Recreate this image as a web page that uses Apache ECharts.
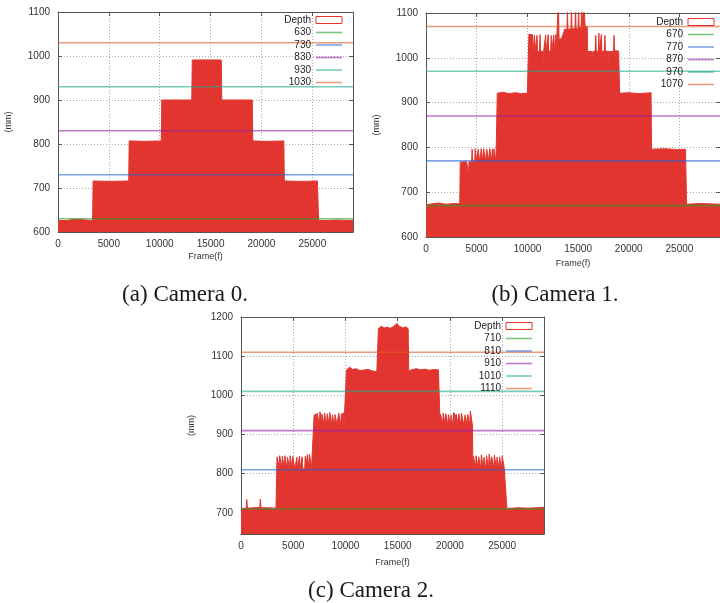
<!DOCTYPE html>
<html><head><meta charset="utf-8">
<script src="https://cdn.jsdelivr.net/npm/echarts@6/dist/echarts.min.js"></script>
<style>html,body{margin:0;padding:0;background:#fff}#c{width:720px;height:603px}</style>
</head><body><div id="c"></div>
<script>
// ---------- data ----------
const frameRange = [0, 29000];
const captions = ['(a) Camera 0.', '(b) Camera 1.', '(c) Camera 2.'];
const levelsA = [630, 730, 830, 930, 1030];
const levelsB = [670, 770, 870, 970, 1070];
const levelsC = [710, 810, 910, 1010, 1110];
const yRangeA = [600, 1100];
const yRangeB = [600, 1100];
const yRangeC = [646, 1200];

const depthA = [[0,626],[900,626],[950,629],[1300,628],[1350,626],[1800,629],[1850,626],[3400,626],[3450,716],[5200,715],[6950,716],[7000,807],[8500,806],[10150,807],[10200,900],[13150,900],[13200,991],[16050,991],[16100,900],[19100,900],[19150,807],[20600,806],[22200,807],[22250,716],[24000,715],[25500,716],[25620,626],[27500,627],[29000,626]];

const depthB = [[0,672],[600,674],[1200,676],[2000,673],[2800,675],[3330,674],
[3380,767],[3900,768],[3950,740],[4000,768],[4150,768],[4200,742],[4250,768],[4500,767],[4550,796],[4600,768],[4800,768],[4850,797],[4950,797],[5000,769],[5100,769],[5150,796],[5250,796],[5300,768],[5400,768],[5450,797],[5550,770],[5650,770],[5700,797],[5800,797],[5850,769],[5950,769],[6000,796],[6100,796],[6150,770],[6250,770],[6300,797],[6400,797],[6450,769],[6550,796],[6650,769],[6700,797],[6850,797],[6900,769],[6980,769],
[7030,921],[7600,923],[8200,920],[8800,922],[9400,920],[10000,921],[10100,921],
[10150,1052],[10500,1052],[10550,1014],[10650,1014],[10700,1051],[10750,1015],[10900,1014],[10950,1050],[11000,1014],[11200,1015],[11250,1052],[11300,1014],[11500,1015],[11550,978],[11600,1014],[11750,1014],[11800,1051],[11850,1013],[12000,1014],[12050,1052],[12100,1015],[12300,1014],[12350,1050],[12400,1014],[12550,1015],[12600,1051],[12650,1014],[12800,1052],[12850,1016],[13000,1015],
[13050,1130],[13130,1040],[13400,1045],[13600,1058],[13650,1064],[13900,1062],[13950,1110],[14000,1063],[14300,1065],[14350,1110],[14400,1064],[14700,1066],[14750,1120],[14800,1066],[15000,1066],[15050,1110],[15100,1067],[15300,1068],[15350,1120],[15400,1068],[15500,1068],[15550,1130],[15650,1130],[15700,1070],[15900,1069],
[15950,1014],[16400,1014],[16450,980],[16500,1014],[16700,1015],[16750,1050],[16800,1015],[17000,1014],[17050,1055],[17100,1016],[17250,1015],[17300,1052],[17350,1014],[17600,1015],[17650,1050],[17700,1014],[18000,1015],[18050,980],[18100,1014],[18500,1014],[18550,1050],[18600,1016],[19000,1015],
[19100,921],[20000,922],[21000,920],[22200,922],
[22250,796],[23500,797],[25000,795],[25600,796],
[25700,673],[27000,675],[29000,673]];

const depthC = [[0,711],[500,712],[550,734],[620,712],[1800,714],[1850,735],[1920,713],[2500,713],[3350,712],
[3420,812],[3450,843],[3600,845],[3650,815],[3700,846],[3850,842],[3900,814],[3950,845],[4100,843],[4150,813],[4200,846],[4350,844],[4400,812],[4450,842],[4600,845],[4650,814],[4700,846],[4850,843],[4900,813],[4950,844],[5100,845],[5150,812],[5300,812],[5350,842],[5400,813],[5550,813],[5600,845],[5650,812],[5800,814],[5850,843],[5900,812],[6100,813],[6150,844],[6200,813],[6300,814],[6350,849],[6450,848],[6500,815],[6550,850],[6700,848],[6750,814],[6900,813],
[6950,923],[7000,950],[7200,952],[7250,925],[7300,955],[7450,950],[7500,924],[7550,958],[7650,948],[7700,923],[7750,952],[7900,950],[7950,924],[8000,955],[8150,950],[8200,925],[8250,953],[8400,948],[8450,924],[8500,956],[8650,952],[8700,923],[8750,950],[8900,953],[8950,924],[9000,951],[9150,948],[9200,925],[9300,925],[9350,955],[9500,950],[9550,924],[9600,952],[9800,955],[9850,925],[9900,950],[10050,948],
[10100,1065],[10400,1072],[10700,1066],[11000,1068],[11400,1063],[11800,1065],[12200,1066],[12600,1062],[13000,1060],[13100,1060],
[13150,1170],[13400,1176],[13700,1172],[14000,1174],[14300,1171],[14600,1176],[14900,1183],[15200,1176],[15500,1172],[15800,1175],[16000,1170],
[16050,1062],[16400,1066],[16800,1068],[17200,1065],[17600,1067],[18000,1064],[18400,1066],[18900,1065],[19000,1060],
[19050,924],[19100,952],[19250,950],[19300,925],[19350,955],[19500,951],[19550,924],[19600,953],[19750,949],[19800,923],[19850,951],[20000,955],[20050,925],[20100,950],[20250,952],[20300,924],[20350,956],[20500,950],[20550,925],[20600,952],[20750,948],[20800,923],[20850,953],[21000,950],[21050,924],[21100,955],[21250,952],[21300,925],[21400,925],[21450,950],[21600,953],[21650,924],[21700,951],[21850,948],[21900,925],[21950,960],[22100,958],[22150,924],
[22200,813],[22250,845],[22400,843],[22450,814],[22500,846],[22650,844],[22700,812],[22750,843],[22900,845],[22950,813],[23000,848],[23150,845],[23200,814],[23250,842],[23400,844],[23450,812],[23500,846],[23650,843],[23700,813],[23750,850],[23900,846],[23950,814],[24000,843],[24150,845],[24200,812],[24250,847],[24400,844],[24450,813],[24500,842],[24650,846],[24700,814],[24750,843],[24900,845],[24950,812],[25000,846],[25150,843],[25200,813],[25350,813],
[25450,711],[26500,713],[27500,712],[29000,714]];

// ---------- styles / layout ----------
const RED = '#e3352f';
const lineColors = ['rgba(40,160,40,0.6)','rgba(40,100,210,0.6)','rgba(150,30,170,0.6)','rgba(30,170,140,0.6)','rgba(220,90,40,0.6)'];
const panels = [
  {depth: depthA, levels: levelsA, yr: yRangeA, grid: {left: 58, top: 12, width: 295, height: 220}, legend: {left: 279, top: 15}, cap: {x: 185, y: 283}, yGap: 45, xGap: 20},
  {depth: depthB, levels: levelsB, yr: yRangeB, grid: {left: 426, top: 13, width: 299, height: 224}, legend: {left: 651, top: 17}, cap: {x: 555, y: 283}, yGap: 45, xGap: 22},
  {depth: depthC, levels: levelsC, yr: yRangeC, grid: {left: 241, top: 317, width: 303, height: 217}, legend: {left: 469, top: 321}, cap: {x: 371, y: 579}, yGap: 45, xGap: 24}
];
const FONT = 'Liberation Sans';
const axisLineStyle = {color: '#555', width: 1};
const plain = v => String(v);

const option = {animation: false, backgroundColor: '#fff', grid: [], xAxis: [], yAxis: [], series: [], legend: [], title: []};

panels.forEach((p, i) => {
  option.grid.push(Object.assign({containLabel: false}, p.grid));
  const xBase = {gridIndex: i, type: 'value', min: frameRange[0], max: frameRange[1], interval: 5000};
  option.xAxis.push(Object.assign({}, xBase, {
    position: 'bottom',
    name: 'Frame(f)', nameLocation: 'middle', nameGap: p.xGap,
    nameTextStyle: {fontFamily: FONT, fontSize: 9, color: '#333'},
    axisLine: {show: true, lineStyle: axisLineStyle},
    axisTick: {show: true, inside: true, length: 4, lineStyle: axisLineStyle},
    axisLabel: {show: true, margin: 7, fontFamily: FONT, fontSize: 10, color: '#333', showMaxLabel: false, formatter: plain},
    splitLine: {show: true, lineStyle: {color: '#aaa', type: [1, 2], width: 1}}
  }));
  option.xAxis.push(Object.assign({}, xBase, {
    position: 'top',
    axisLine: {show: true, onZero: false, lineStyle: axisLineStyle},
    axisTick: {show: true, inside: true, length: 4, lineStyle: axisLineStyle},
    axisLabel: {show: false}, splitLine: {show: false}
  }));
  const yBase = {gridIndex: i, type: 'value', min: p.yr[0], max: p.yr[1]};
  if (p.yr[0] % 100 === 0) yBase.interval = 100;
  option.yAxis.push(Object.assign({}, yBase, {
    position: 'left',
    name: '(mm)', nameLocation: 'middle', nameGap: p.yGap, nameRotate: 90,
    nameTextStyle: {fontFamily: FONT, fontSize: 9, color: '#333'},
    axisLine: {show: true, onZero: false, lineStyle: axisLineStyle},
    axisTick: {show: true, inside: true, length: 4, lineStyle: axisLineStyle},
    axisLabel: {show: true, margin: 8, fontFamily: FONT, fontSize: 10, color: '#333', showMinLabel: p.yr[0] % 100 === 0, formatter: plain},
    splitLine: {show: true, lineStyle: {color: '#aaa', type: [1, 2], width: 1}}
  }));
  option.yAxis.push(Object.assign({}, yBase, {
    position: 'right',
    axisLine: {show: true, onZero: false, lineStyle: axisLineStyle},
    axisTick: {show: true, inside: true, length: 4, lineStyle: axisLineStyle},
    axisLabel: {show: false}, splitLine: {show: false}
  }));
  const xi = i * 2, yi = i * 2;
  option.series.push({
    name: 'Depth', type: 'line', xAxisIndex: xi, yAxisIndex: yi,
    data: p.depth, symbol: 'none', clip: true, z: 2,
    lineStyle: {color: RED, width: 1}, itemStyle: {color: RED},
    areaStyle: {color: RED, opacity: 1, origin: 'start'}
  });
  const legendData = [{name: 'Depth', icon: 'rect', itemStyle: {color: '#fff', borderColor: RED, borderWidth: 1}}];
  p.levels.forEach((lv, k) => {
    option.series.push({
      name: String(lv), type: 'line', xAxisIndex: xi, yAxisIndex: yi,
      data: [[frameRange[0], lv], [frameRange[1], lv]], symbol: 'none', z: 3,
      lineStyle: {color: lineColors[k], width: 1.6}, itemStyle: {color: lineColors[k]}
    });
    legendData.push({name: String(lv), icon: 'path://M0,0H26V1.6H0Z', itemStyle: {color: lineColors[k], borderWidth: 0}});
  });
  option.legend.push({
    orient: 'vertical', align: 'right', left: p.legend.left, top: p.legend.top,
    itemWidth: 26, itemHeight: 7, itemGap: 2.5, padding: 0, selectedMode: false,
    data: legendData,
    formatter: '{t|{name}}',
    textStyle: {rich: {t: {width: 32, align: 'right', fontFamily: FONT, fontSize: 10, lineHeight: 10, color: '#222'}}}
  });
  option.title.push({
    text: captions[i], left: p.cap.x, top: p.cap.y, textAlign: 'center', padding: 0,
    textStyle: {fontFamily: 'Liberation Serif', fontSize: 23, fontWeight: 'normal', color: '#1a1a1a'}
  });
});

const chart = echarts.init(document.getElementById('c'), null, {renderer: 'canvas'});
chart.setOption(option);
</script></body></html>
